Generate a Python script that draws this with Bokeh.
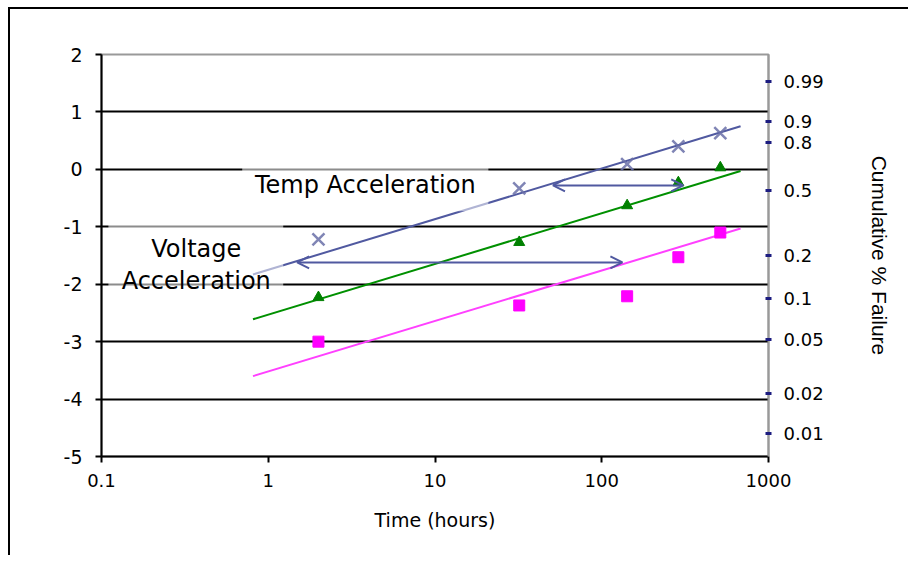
import math
from bokeh.plotting import figure
from bokeh.models import Range1d, LinearAxis, FixedTicker, Arrow, OpenHead
from bokeh.embed import file_html
from bokeh.resources import INLINE
from bokeh.core.properties import value

# ---- data ----
time_hours = [2, 32, 142, 288, 514]
series_x = [-1.22, -0.33, 0.09, 0.40, 0.63]      # blue-grey crosses
series_tri = [-2.23, -1.27, -0.63, -0.23, 0.03]  # green triangles
series_sq = [-3.00, -2.37, -2.21, -1.53, -1.10]  # magenta squares

fit_x = [0.81, 680]
fit_blue = [-1.83, 0.75]
fit_green = [-2.61, -0.03]
fit_magenta = [-3.60, -1.03]

x_ticks = [0.1, 1, 10, 100, 1000]
x_labels = ["0.1", "1", "10", "100", "1000"]
y_ticks = [-5, -4, -3, -2, -1, 0, 1, 2]
y_labels = ["-5", "-4", "-3", "-2", "-1", "0", "1", "2"]
grid_ticks = [-4, -3, -2, -1, 0, 1]
cum_fail = [0.99, 0.9, 0.8, 0.5, 0.2, 0.1, 0.05, 0.02, 0.01]
cum_labels = ["0.99", "0.9", "0.8", "0.5", "0.2", "0.1", "0.05", "0.02", "0.01"]

FONT = "DejaVu Sans"
BLUE = "#5059A0"

p = figure(width=900, height=548, x_axis_type="log",
           x_range=Range1d(0.1, 1000), y_range=Range1d(-5, 2),
           output_backend="svg", toolbar_location=None,
           min_border_left=91, min_border_top=45,
           min_border_right=142, min_border_bottom=101,
           background_fill_color="white", border_fill_color="white")
p.styles = {"border-left": "2px solid black", "border-top": "2px solid black",
            "margin-left": "8px", "margin-top": "7px"}

p.outline_line_color = "#999999"
p.outline_line_width = 2

# grid
p.xgrid.visible = False
p.ygrid.ticker = FixedTicker(ticks=grid_ticks)
p.ygrid.grid_line_color = "#000000"
p.ygrid.grid_line_width = 1.8

# bottom axis
xa = p.xaxis[0]
xa.ticker = FixedTicker(ticks=x_ticks, minor_ticks=[])
xa.major_label_overrides = {t: l for t, l in zip(x_ticks, x_labels)}
xa.axis_label = "Time (hours)"
xa.axis_label_text_font = FONT
xa.axis_label_text_font_size = "19px"
xa.axis_label_text_font_style = "normal"
xa.axis_label_text_color = "black"
xa.axis_label_standoff = 19
xa.major_label_text_font = FONT
xa.major_label_text_font_size = "18px"
xa.major_label_text_color = "black"
xa.major_label_standoff = 11
xa.axis_line_color = "black"
xa.axis_line_width = 2
xa.major_tick_line_color = "black"
xa.major_tick_line_width = 2
xa.major_tick_out = 6
xa.major_tick_in = 0

# left axis
ya = p.yaxis[0]
ya.ticker = FixedTicker(ticks=y_ticks, minor_ticks=[])
ya.major_label_overrides = {t: l for t, l in zip(y_ticks, y_labels)}
ya.major_label_text_font = FONT
ya.major_label_text_font_size = "19px"
ya.major_label_text_color = "black"
ya.major_label_standoff = 13
ya.axis_line_color = "black"
ya.axis_line_width = 2
ya.major_tick_line_color = "black"
ya.major_tick_line_width = 2
ya.major_tick_out = 6
ya.major_tick_in = 0

# right axis: Weibull positions of cumulative failure fractions
right_pos = [round(math.log(-math.log(1 - f)), 4) for f in cum_fail]
ra = LinearAxis(ticker=FixedTicker(ticks=right_pos, minor_ticks=[]),
                major_label_overrides={t: l for t, l in zip(right_pos, cum_labels)},
                axis_label="Cumulative % Failure")
ra.axis_label_text_font = "Liberation Sans"
ra.axis_label_text_font_size = "21px"
ra.axis_label_text_font_style = "normal"
ra.axis_label_text_color = "black"
ra.axis_label_standoff = 41
ra.major_label_text_font = FONT
ra.major_label_text_font_size = "18px"
ra.major_label_text_color = "black"
ra.major_label_standoff = 12
ra.axis_line_color = "#999999"
ra.axis_line_width = 2
ra.major_tick_line_color = "#1C1C80"
ra.major_tick_line_width = 3
ra.major_tick_in = 3
ra.major_tick_out = 3
p.add_layout(ra, "right")

# trend lines
p.line(fit_x, fit_blue, line_color=BLUE, line_width=2)
p.line(fit_x, fit_green, line_color="#009000", line_width=2)
p.line(fit_x, fit_magenta, line_color="#FF40FF", line_width=2)

# semi-transparent text boxes
p.quad(left=[0.698], right=[20.9], top=[0.07], bottom=[-0.73],
       fill_color="white", fill_alpha=0.55, line_color=None)
p.quad(left=[0.11], right=[1.23], top=[-0.9], bottom=[-2.2],
       fill_color="white", fill_alpha=0.55, line_color=None)

# markers
p.scatter(time_hours, series_x, marker="x", size=17, line_color="#6A70A8",
          line_width=2.5, line_alpha=0.85)
p.scatter(time_hours, series_tri, marker="triangle", size=11,
          fill_color="#008000", line_color="#008000")
p.scatter(time_hours, series_sq, marker="square", size=11,
          fill_color="#FF00FF", line_color="#FF00FF")

# annotations
p.text(x=[3.82], y=[-0.28], text=["Temp Acceleration"], text_font=value(FONT),
       text_font_size="24px", text_align="center", text_baseline="middle",
       text_color="black")
p.text(x=[0.37, 0.37], y=[-1.38, -1.95], text=["Voltage", "Acceleration"],
       text_font=value(FONT), text_font_size="24px", text_align="center",
       text_baseline="middle", text_color="black")

p.add_layout(Arrow(start=OpenHead(size=12, line_color=BLUE, line_width=2),
                   end=OpenHead(size=12, line_color=BLUE, line_width=2),
                   x_start=51, y_start=-0.28, x_end=308, y_end=-0.28,
                   line_color=BLUE, line_width=2))
p.add_layout(Arrow(start=OpenHead(size=12, line_color=BLUE, line_width=2),
                   end=OpenHead(size=12, line_color=BLUE, line_width=2),
                   x_start=1.49, y_start=-1.62, x_end=133, y_end=-1.62,
                   line_color=BLUE, line_width=2))

open("out.html", "w").write(file_html(p, INLINE))
